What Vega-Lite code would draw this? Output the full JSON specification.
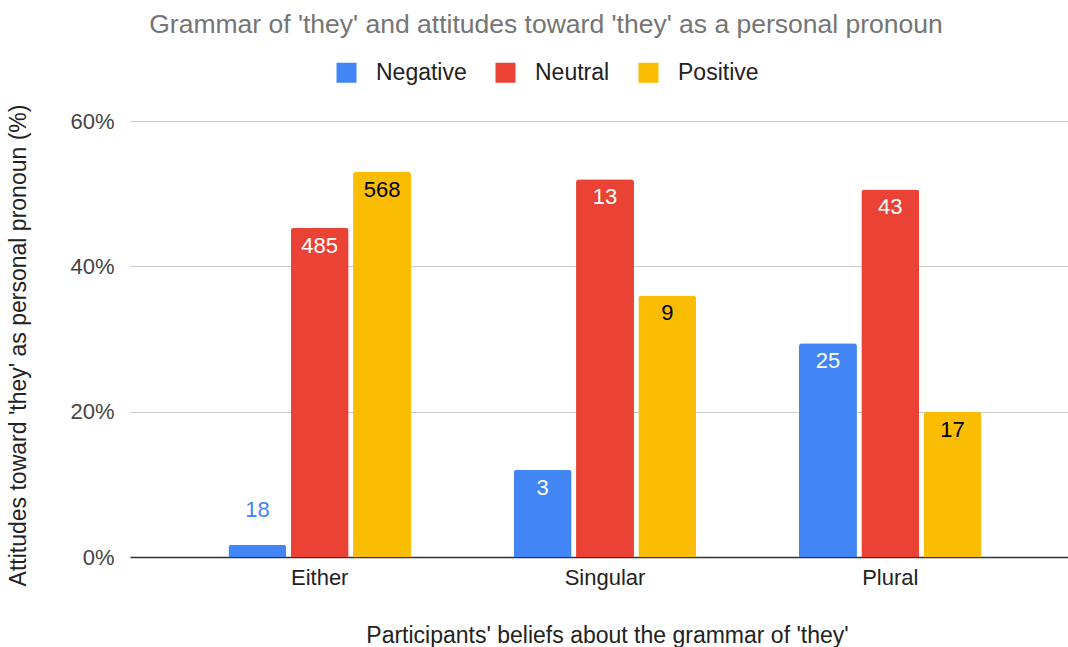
{
  "$schema": "https://vega.github.io/schema/vega-lite/v6.json",
  "width": 938,
  "height": 436,
  "autosize": {"type": "none"},
  "padding": {"left": 128, "top": 121, "right": 2, "bottom": 90},
  "background": "white",
  "config": {
    "font": "Arial, Liberation Sans, sans-serif",
    "view": {"stroke": null}
  },
  "title": {
    "text": "Grammar of 'they' and attitudes toward 'they' as a personal pronoun",
    "anchor": "middle",
    "dx": -51,
    "offset": 23,
    "fontSize": 26.5,
    "fontWeight": "normal",
    "color": "#757575"
  },
  "data": {
    "values": [
      {"belief": "Either", "attitude": "Negative", "pct": 0.0168, "count": 18},
      {"belief": "Either", "attitude": "Neutral", "pct": 0.4529, "count": 485},
      {"belief": "Either", "attitude": "Positive", "pct": 0.5303, "count": 568},
      {"belief": "Singular", "attitude": "Negative", "pct": 0.12, "count": 3},
      {"belief": "Singular", "attitude": "Neutral", "pct": 0.52, "count": 13},
      {"belief": "Singular", "attitude": "Positive", "pct": 0.36, "count": 9},
      {"belief": "Plural", "attitude": "Negative", "pct": 0.2941, "count": 25},
      {"belief": "Plural", "attitude": "Neutral", "pct": 0.5059, "count": 43},
      {"belief": "Plural", "attitude": "Positive", "pct": 0.2, "count": 17}
    ]
  },
  "encoding": {
    "x": {
      "field": "belief",
      "type": "nominal",
      "sort": ["Either", "Singular", "Plural"],
      "scale": {"paddingInner": 0.36, "paddingOuter": 0.345, "range": [2, 952]},
      "axis": {
        "title": "Participants' beliefs about the grammar of 'they'",
        "titleFontSize": 23,
        "titleFontWeight": "normal",
        "titleColor": "#222",
        "titleX": 479,
        "titleY": 78,
        "titleAlign": "center",
        "titleBaseline": "middle",
        "labelAngle": 0,
        "labelFontSize": 22,
        "labelColor": "#222",
        "labelPadding": 10,
        "ticks": false,
        "domainColor": "#333",
        "domainWidth": 1.5,
        "grid": false
      }
    },
    "xOffset": {
      "field": "attitude",
      "type": "nominal",
      "sort": ["Negative", "Neutral", "Positive"],
      "scale": {"paddingInner": 0.07}
    },
    "y": {
      "field": "pct",
      "type": "quantitative",
      "scale": {"domain": [0, 0.6], "nice": false},
      "axis": {
        "title": "Attitudes toward 'they' as personal pronoun (%)",
        "titleFontSize": 23,
        "titleFontWeight": "normal",
        "titleColor": "#222",
        "titleAngle": -90,
        "titleX": -110,
        "titleY": 224,
        "titleAlign": "center",
        "titleBaseline": "middle",
        "values": [0, 0.2, 0.4, 0.6],
        "format": ".0%",
        "labelFontSize": 22,
        "labelColor": "#444",
        "labelPadding": 14,
        "ticks": false,
        "domain": false,
        "gridColor": "#cccccc",
        "gridWidth": 1
      }
    }
  },
  "layer": [
    {
      "mark": {"type": "bar", "cornerRadiusTopLeft": 3, "cornerRadiusTopRight": 3},
      "encoding": {
        "color": {
          "field": "attitude",
          "type": "nominal",
          "sort": ["Negative", "Neutral", "Positive"],
          "scale": {"domain": ["Negative", "Neutral", "Positive"], "range": ["#4285F4", "#EA4335", "#FBBC04"]},
          "legend": {
            "title": null,
            "orient": "none",
            "direction": "horizontal",
            "legendX": 207,
            "legendY": -60,
            "symbolType": "square",
            "symbolSize": 400,
            "symbolStrokeWidth": 0,
            "symbolOpacity": 1,
            "labelFontSize": 23,
            "labelColor": "#222",
            "labelOffset": 18,
            "columnPadding": 27
          }
        }
      }
    },
    {
      "transform": [{"filter": "datum.pct >= 0.05"}],
      "mark": {"type": "text", "dy": 18, "fontSize": 22, "baseline": "middle"},
      "encoding": {
        "text": {"field": "count", "type": "quantitative"},
        "color": {
          "condition": {"test": "datum.attitude === 'Positive'", "value": "#000000"},
          "value": "#ffffff"
        }
      }
    },
    {
      "transform": [{"filter": "datum.pct < 0.05"}],
      "mark": {"type": "text", "dy": -35, "fontSize": 22, "baseline": "middle", "color": "#4285F4"},
      "encoding": {
        "text": {"field": "count", "type": "quantitative"}
      }
    }
  ]
}
